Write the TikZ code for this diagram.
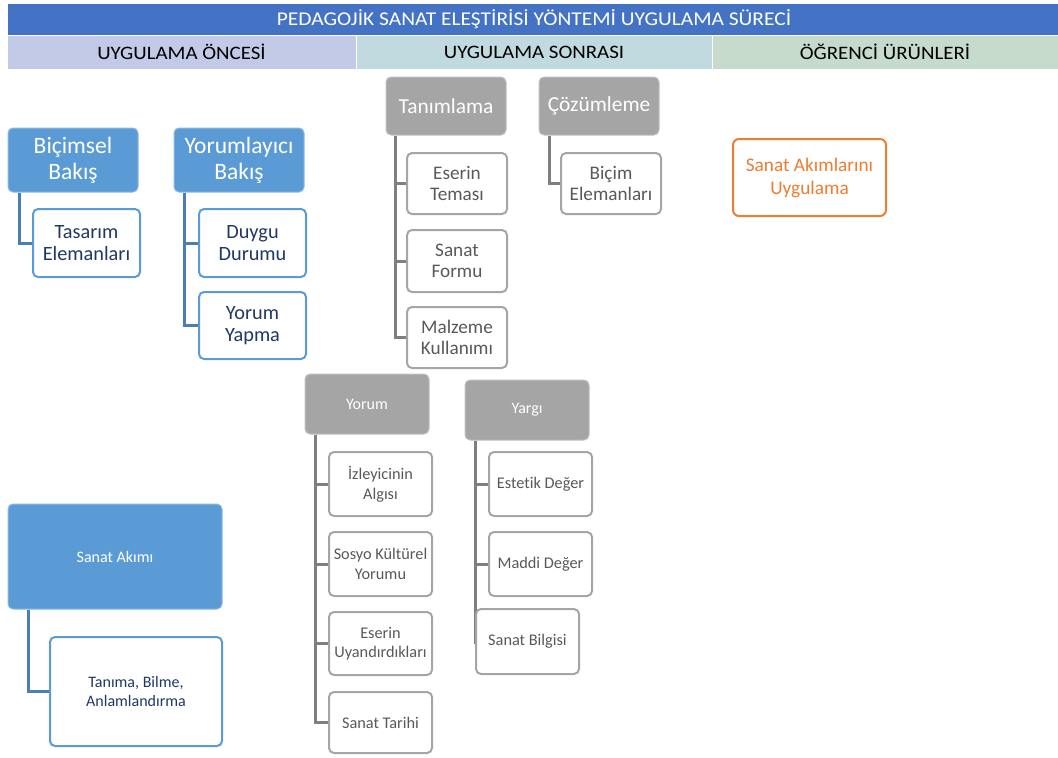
\documentclass[tikz,border=0pt]{standalone}
\usepackage{fontspec}
\setmainfont{Carlito}[Ligatures=NoCommon]
\newfontfamily\wideface[FakeStretch=1.1,Ligatures=NoCommon]{Carlito}
\definecolor{titleblue}{HTML}{4472C4}
\definecolor{rowA}{HTML}{C2CAE8}
\definecolor{rowB}{HTML}{C0DADF}
\definecolor{rowC}{HTML}{C7DBCD}
\definecolor{boxblue}{HTML}{5B9BD5}
\definecolor{linkblue}{HTML}{4A7EBB}
\definecolor{navy}{HTML}{1F3864}
\definecolor{boxgray}{HTML}{A5A5A5}
\definecolor{linkgray}{HTML}{7F7F7F}
\definecolor{txtgray}{HTML}{595959}
\definecolor{orng}{HTML}{ED7D31}
\tikzset{
  bluehead/.style={fill=boxblue, draw=boxblue!70!white, line width=1pt, rounded corners=5pt, text=white, align=center, inner sep=0pt},
  bluechild/.style={fill=white, draw=boxblue, line width=2pt, rounded corners=5pt, text=navy, align=center, inner sep=0pt},
  grayhead/.style={fill=boxgray, draw=boxgray!70!white, line width=1pt, rounded corners=5pt, text=white, align=center, inner sep=0pt},
  graychild/.style={fill=white, draw=boxgray, line width=2pt, rounded corners=5pt, text=txtgray, align=center, inner sep=0pt},
  bluelink/.style={draw=linkblue, line width=3pt},
  graylink/.style={draw=linkgray, line width=3pt},
  band/.style={draw=white, line width=1pt, inner sep=0pt, anchor=north west},
}
\begin{document}
\begin{tikzpicture}[x=1pt,y=-1pt]
\useasboundingbox (0,0) rectangle (1058,758);
% header bands
\node[band, fill=titleblue, minimum width=1051, minimum height=32] (title) at (7,3) {};
\node[text=white, font=\wideface\fontsize{19.5}{22}\selectfont] (titletxt) at (534,19) {PEDAGOJİK SANAT ELEŞTİRİSİ YÖNTEMİ UYGULAMA SÜRECİ};
\node[band, fill=rowA, minimum width=349, minimum height=34] (rowa) at (7,35) {};
\node[band, fill=rowB, minimum width=356, minimum height=34] (rowb) at (356,35) {};
\node[band, fill=rowC, minimum width=346, minimum height=34] (rowc) at (712,35) {};
\node[font=\wideface\fontsize{19}{22}\selectfont] (rowatxt) at (181.5,52) {UYGULAMA ÖNCESİ};
\node[font=\wideface\fontsize{19}{22}\selectfont] (rowbtxt) at (534,52) {UYGULAMA SONRASI};
\node[font=\wideface\fontsize{19}{22}\selectfont] (rowctxt) at (885,52) {ÖĞRENCİ ÜRÜNLERİ};

% Uygulama oncesi
\node[bluehead, minimum width=130, minimum height=64, font=\fontsize{23.5}{26}\selectfont] (bic) at (73,160) {Biçimsel\\Bakış};
\node[bluechild, minimum width=107, minimum height=68, font=\fontsize{20.3}{22.5}\selectfont] (tas) at (86.5,243) {Tasarım\\Elemanları};
\node[bluehead, minimum width=130, minimum height=64, font=\fontsize{23.5}{26}\selectfont] (yb) at (239,160) {Yorumlayıcı\\Bakış};
\node[bluechild, minimum width=107, minimum height=68, font=\fontsize{20.3}{22.5}\selectfont] (duy) at (252.5,243) {Duygu\\Durumu};
\node[bluechild, minimum width=107, minimum height=67, font=\fontsize{20.3}{22.5}\selectfont] (yy) at (252.5,325.5) {Yorum\\Yapma};
\draw[bluelink] ([xshift=12]bic.south west) |- (tas.west);
\draw[bluelink] ([xshift=11]yb.south west) |- (duy.west);
\draw[bluelink] ([xshift=11]yb.south west) |- (yy.west);

\node[bluehead, minimum width=214, minimum height=105, font=\fontsize{16}{19}\selectfont] (sa) at (115,556.5) {Sanat Akımı};
\node[bluechild, minimum width=172, minimum height=109, font=\fontsize{16}{19}\selectfont] (tbm) at (136,691.5) {Tanıma, Bilme,\\Anlamlandırma};
\draw[bluelink] ([xshift=21]sa.south west) |- (tbm.west);

% Uygulama sonrasi
\node[grayhead, minimum width=120, minimum height=58, font=\fontsize{21.4}{24}\selectfont] (tan) at (446,106) {Tanımlama};
\node[graychild, minimum width=100, minimum height=61, font=\fontsize{19.2}{20.5}\selectfont] (t1) at (457,183.5) {Eserin\\Teması};
\node[graychild, minimum width=100, minimum height=62, font=\fontsize{19.2}{20.5}\selectfont] (t2) at (457,261) {Sanat\\Formu};
\node[graychild, minimum width=100, minimum height=61, font=\fontsize{19.2}{20.5}\selectfont] (t3) at (457,337.5) {Malzeme\\Kullanımı};
\draw[graylink] ([xshift=10]tan.south west) |- (t1.west);
\draw[graylink] ([xshift=10]tan.south west) |- (t2.west);
\draw[graylink] ([xshift=10]tan.south west) |- (t3.west);

\node[grayhead, minimum width=120, minimum height=58, font=\fontsize{21.4}{24}\selectfont] (coz) at (599,106) {Çözümleme};
\node[graychild, minimum width=100, minimum height=61, font=\fontsize{19.2}{20.5}\selectfont] (bc) at (611,183.5) {Biçim\\Elemanları};
\draw[graylink] ([xshift=11]coz.south west) |- (bc.west);

\node[grayhead, minimum width=124, minimum height=60, font=\fontsize{16}{19}\selectfont] (yor) at (367,404) {Yorum};
\node[graychild, minimum width=103, minimum height=64, font=\fontsize{16.3}{19.5}\selectfont] (y1) at (380.5,484) {İzleyicinin\\Algısı};
\node[graychild, minimum width=103, minimum height=64, font=\fontsize{16.3}{19.5}\selectfont] (y2) at (380.5,564) {Sosyo Kültürel\\Yorumu};
\node[graychild, minimum width=103, minimum height=63, font=\fontsize{16.3}{19.5}\selectfont] (y3) at (380.5,643.5) {Eserin\\Uyandırdıkları};
\node[graychild, minimum width=103, minimum height=61, font=\fontsize{16.3}{19.5}\selectfont] (y4) at (380.5,722.5) {Sanat Tarihi};
\draw[graylink] ([xshift=11]yor.south west) |- (y1.west);
\draw[graylink] ([xshift=11]yor.south west) |- (y2.west);
\draw[graylink] ([xshift=11]yor.south west) |- (y3.west);
\draw[graylink] ([xshift=11]yor.south west) |- (y4.west);

\node[grayhead, minimum width=124, minimum height=60, font=\fontsize{16}{19}\selectfont] (yar) at (527,410) {Yargı};
\node[graychild, minimum width=103, minimum height=64, font=\fontsize{16.3}{19.5}\selectfont] (e1) at (540.5,484) {Estetik Değer};
\node[graychild, minimum width=103, minimum height=64, font=\fontsize{16.3}{19.5}\selectfont] (e2) at (540.5,564) {Maddi Değer};
\draw[graylink] ([xshift=11]yar.south west) |- (e1.west);
\draw[graylink] ([xshift=11]yar.south west) |- (e2.west);
\draw[graylink] ([xshift=11]yar.south west) -- ([xshift=11]yar.south west |- e2.south) -- ++(0,47);
\node[graychild, minimum width=103, minimum height=65, font=\fontsize{16.3}{19.5}\selectfont] (sb) at (527.5,641.5) {Sanat Bilgisi};

% Ogrenci urunleri
\node[fill=white, draw=orng, line width=2pt, rounded corners=6pt, text=orng, align=center, inner sep=0pt, minimum width=153, minimum height=77, font=\fontsize{19.3}{23}\selectfont] (sau) at (809.5,177.5) {Sanat Akımlarını\\Uygulama};
\end{tikzpicture}
\end{document}
